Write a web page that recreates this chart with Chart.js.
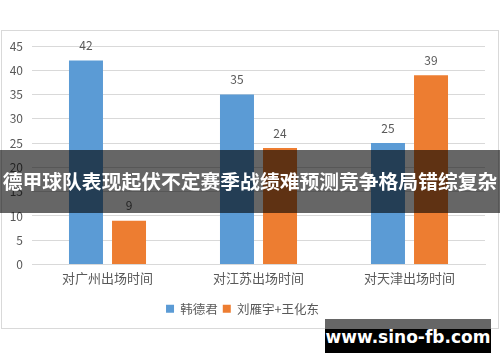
<!DOCTYPE html>
<html>
<head>
<meta charset="utf-8">
<script src="https://cdn.jsdelivr.net/npm/chart.js@4/dist/chart.umd.min.js"></script>
<style>
    html, body { margin: 0; padding: 0; background: #fff; }
    #wrap { position: relative; width: 500px; height: 362px; overflow: hidden; }
    #banner {
        position: absolute; left: 0; top: 150px; width: 500px; height: 63px;
        background: rgba(0, 0, 0, 0.6); color: #fff;
        font: bold 19.8px "Noto Sans CJK SC", sans-serif;
        line-height: 61px; text-align: center; white-space: nowrap;
    }
    #mark {
        position: absolute; left: 325px; top: 319px; width: 166px; height: 34px;
        background: linear-gradient(#666 0, #666 10px, #000 10px);
        color: #fff; font: bold 17px "DejaVu Sans", sans-serif;
        line-height: 36px; text-align: center; white-space: nowrap;
    }
</style>
</head>
<body>
<div id="wrap">
    <canvas id="chart" width="500" height="362"></canvas>
    <div id="banner">德甲球队表现起伏不定赛季战绩难预测竞争格局错综复杂</div>
    <div id="mark">www.sino-fb.com</div>
</div>
<script>
// 출장 시간 비교 데이터
const categories = ['对广州出场时间', '对江苏出场时间', '对天津出场时间'];
const seriesNames = ['韩德君', '刘雁宇+王化东'];
const hanDejun = [42, 35, 25];
const liuWang = [9, 24, 39];
const yTicks = [0, 5, 10, 15, 20, 25, 30, 35, 40, 45];

const BLUE = '#5B9BD5';
const ORANGE = '#ED7D31';
const TEXT = '#595959';

// 바깥 테두리 + 막대 위 값 표시
const decorPlugin = {
    id: 'decor',
    beforeDraw(chart) {
        const ctx = chart.ctx;
        ctx.save();
        ctx.strokeStyle = '#D9D9D9';
        ctx.lineWidth = 1;
        ctx.strokeRect(1.5, 30.5, 497, 298);
        ctx.restore();
    },
    afterDatasetsDraw(chart) {
        const ctx = chart.ctx;
        ctx.save();
        ctx.fillStyle = TEXT;
        ctx.font = '12px "Noto Sans CJK SC", sans-serif';
        ctx.textAlign = 'center';
        ctx.textBaseline = 'middle';
        chart.data.datasets.forEach((ds, i) => {
            chart.getDatasetMeta(i).data.forEach((bar, j) => {
                ctx.fillText(String(ds.data[j]), bar.x, bar.y - 15);
            });
        });
        ctx.restore();
    }
};

new Chart(document.getElementById('chart'), {
    type: 'bar',
    data: {
        labels: categories,
        datasets: [
            { label: seriesNames[0], data: hanDejun, backgroundColor: BLUE },
            { label: seriesNames[1], data: liuWang, backgroundColor: ORANGE }
        ]
    },
    options: {
        responsive: false,
        animation: false,
        events: [],
        categoryPercentage: 0.57,
        barPercentage: 0.79,
        layout: { padding: { top: 46, right: 15, bottom: 37, left: 0 } },
        plugins: {
            legend: {
                position: 'bottom',
                labels: {
                    boxWidth: 8,
                    boxHeight: 8,
                    padding: 5,
                    color: TEXT,
                    font: { size: 12.5, family: '"Noto Sans CJK SC", sans-serif' }
                }
            },
            tooltip: { enabled: false }
        },
        scales: {
            x: {
                grid: { display: false, drawTicks: false },
                border: { display: true, color: '#D9D9D9' },
                ticks: {
                    padding: 6,
                    color: TEXT,
                    font: { size: 13, family: '"Noto Sans CJK SC", sans-serif' }
                },
                afterFit(scale) { scale.height = 33; }
            },
            y: {
                min: 0,
                max: 45,
                afterBuildTicks(scale) { scale.ticks = yTicks.map(v => ({ value: v })); },
                grid: { color: '#D9D9D9', drawTicks: false },
                border: { display: false },
                ticks: {
                    padding: 9,
                    color: TEXT,
                    font: { size: 12, family: '"Noto Sans CJK SC", sans-serif' }
                },
                afterFit(scale) { scale.width = 32; }
            }
        }
    },
    plugins: [decorPlugin]
});
</script>
</body>
</html>
